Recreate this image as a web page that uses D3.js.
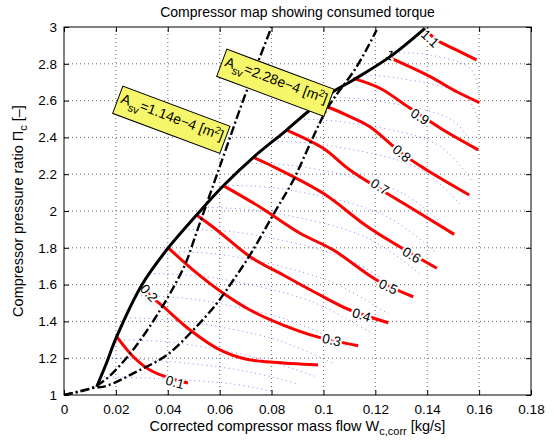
<!DOCTYPE html>
<html>
<head>
<meta charset="utf-8">
<script src="https://cdn.jsdelivr.net/npm/d3@7"></script>
<style>
  body { margin: 0; background: #fff; }
  svg { display: block; font-family: "Liberation Sans", Arial, sans-serif; }
</style>
</head>
<body>
<div id="chart"></div>
<script>
// axis ticks
const xTicks = [0, 0.02, 0.04, 0.06, 0.08, 0.1, 0.12, 0.14, 0.16, 0.18];
const yTicks = [1, 1.2, 1.4, 1.6, 1.8, 2, 2.2, 2.4, 2.6, 2.8, 3];

// surge line (black, solid)
const surgeLine = [
  [0.0126, 1.045], [0.016, 1.16], [0.0203, 1.317], [0.03, 1.598], [0.0402, 1.80],
  [0.0511, 1.978], [0.0614, 2.137], [0.073, 2.292], [0.0858, 2.44], [0.0948, 2.549],
  [0.1037, 2.648], [0.1115, 2.712], [0.1257, 2.839], [0.1391, 2.993]
];

// throttle lines (black, dash-dot)
const throttleSmall = [
  [0.0, 1.0], [0.011, 1.04], [0.0165, 1.09], [0.024, 1.2], [0.031, 1.33], [0.037, 1.46],
  [0.042, 1.58], [0.047, 1.72], [0.051, 1.88], [0.055, 2.04], [0.059, 2.2], [0.064, 2.4],
  [0.069, 2.6], [0.0745, 2.8], [0.080, 3.0]
];
const throttleLarge = [
  [0.0, 1.0], [0.0112, 1.038], [0.0165, 1.05], [0.028, 1.127], [0.0396, 1.217],
  [0.0498, 1.353], [0.0589, 1.498], [0.0653, 1.625], [0.0717, 1.761], [0.0813, 1.996],
  [0.0884, 2.168], [0.0955, 2.386], [0.1019, 2.567], [0.1128, 2.784], [0.1205, 2.984]
];

// torque contour levels and lines (red)
const torqueLevels = ["0.1", "0.2", "0.3", "0.4", "0.5", "0.6", "0.7", "0.8", "0.9", "1", "1.1"];
const torqueLines = [
  [[0.0203, 1.317], [0.0267, 1.208], [0.0331, 1.136], [0.0409, 1.091], [0.0478, 1.065]],
  [[0.0299, 1.598], [0.0344, 1.526], [0.0383, 1.48], [0.0486, 1.353], [0.0601, 1.245], [0.0704, 1.194], [0.0807, 1.178], [0.0979, 1.163]],
  [[0.0402, 1.80], [0.0498, 1.679], [0.0614, 1.553], [0.0717, 1.462], [0.0845, 1.380], [0.0974, 1.317], [0.1134, 1.268]],
  [[0.0511, 1.978], [0.0589, 1.897], [0.0717, 1.752], [0.0845, 1.652], [0.0974, 1.553], [0.1102, 1.462], [0.125, 1.393]],
  [[0.0614, 2.138], [0.0755, 2.022], [0.091, 1.879], [0.1038, 1.788], [0.1205, 1.625], [0.1346, 1.534]],
  [[0.073, 2.292], [0.0794, 2.25], [0.0999, 2.096], [0.1179, 1.906], [0.1437, 1.689]],
  [[0.0858, 2.44], [0.0999, 2.341], [0.1102, 2.223], [0.1308, 2.042], [0.1504, 1.873]],
  [[0.0979, 2.582], [0.1019, 2.564], [0.1102, 2.513], [0.1179, 2.458], [0.1302, 2.313], [0.1398, 2.223], [0.1562, 2.087]],
  [[0.1115, 2.721], [0.1218, 2.667], [0.1334, 2.558], [0.1462, 2.44], [0.1597, 2.332]],
  [[0.1249, 2.837], [0.1411, 2.73], [0.1514, 2.648], [0.1601, 2.589]],
  [[0.1391, 2.989], [0.1437, 2.929], [0.1514, 2.874], [0.159, 2.821]]
];
const torqueLabelPos = [
  [0.0428, 1.07], [0.0328, 1.554], [0.1032, 1.299], [0.1147, 1.435], [0.125, 1.589],
  [0.134, 1.761], [0.1218, 2.132], [0.1302, 2.313], [0.1372, 2.513], [0.1257, 2.848], [0.1411, 2.938]
];

// compressor speed lines (blue, dotted)
const speedLines = [
  [[0.0138, 1.10], [0.035, 1.09], [0.065, 1.06], [0.08, 1.02]],
  [[0.0168, 1.20], [0.038, 1.185], [0.07, 1.13], [0.09, 1.06]],
  [[0.0198, 1.30], [0.042, 1.285], [0.075, 1.20], [0.097, 1.10]],
  [[0.0239, 1.42], [0.046, 1.40], [0.082, 1.30], [0.104, 1.17]],
  [[0.028, 1.54], [0.05, 1.52], [0.088, 1.40], [0.111, 1.25]],
  [[0.0331, 1.66], [0.056, 1.64], [0.095, 1.51], [0.118, 1.34]],
  [[0.0392, 1.78], [0.062, 1.76], [0.102, 1.62], [0.125, 1.44]],
  [[0.0463, 1.90], [0.069, 1.88], [0.109, 1.74], [0.131, 1.55]],
  [[0.0538, 2.02], [0.076, 2.00], [0.116, 1.86], [0.137, 1.66]],
  [[0.0616, 2.14], [0.084, 2.12], [0.123, 1.98], [0.143, 1.78]],
  [[0.0706, 2.26], [0.092, 2.24], [0.13, 2.10], [0.148, 1.90]],
  [[0.0806, 2.38], [0.10, 2.36], [0.137, 2.23], [0.153, 2.03]],
  [[0.0908, 2.50], [0.11, 2.48], [0.144, 2.36], [0.157, 2.17]],
  [[0.1012, 2.62], [0.12, 2.60], [0.15, 2.49], [0.159, 2.32]],
  [[0.1146, 2.74], [0.13, 2.72], [0.155, 2.62], [0.16, 2.47]],
  [[0.1275, 2.86], [0.14, 2.85], [0.157, 2.77], [0.16, 2.62]]
];

// valve area annotations
const areaValues = ["1.14e\u22124", "2.28e\u22124"];
const areaLabelPos = [[0.0413, 2.493], [0.0814, 2.694]];

const width = 554;
const height = 441;
const margin = { top: 27, right: 23, bottom: 46, left: 64 };

const x = d3.scaleLinear().domain([0, 0.18]).range([margin.left, width - margin.right]);
const y = d3.scaleLinear().domain([1, 3]).range([height - margin.bottom, margin.top]);

const svg = d3.select("#chart").append("svg")
  .attr("width", width)
  .attr("height", height);

svg.append("defs").append("clipPath").attr("id", "plot")
  .append("rect")
  .attr("x", x(0)).attr("y", y(3))
  .attr("width", x(0.18) - x(0)).attr("height", y(1) - y(3));

// grid
const grid = svg.append("g")
  .attr("stroke", "#444")
  .attr("stroke-width", 0.8)
  .attr("stroke-dasharray", "1,3");
grid.selectAll(".gx").data(xTicks.slice(1, -1)).join("line")
  .attr("x1", (d) => x(d)).attr("x2", (d) => x(d))
  .attr("y1", y(1)).attr("y2", y(3));
grid.selectAll(".gy").data(yTicks.slice(1, -1)).join("line")
  .attr("y1", (d) => y(d)).attr("y2", (d) => y(d))
  .attr("x1", x(0)).attr("x2", x(0.18));

// axes, ticks pointing in
const fmt = d3.format("~g");
const axisStyle = (g) => {
  g.select(".domain").remove();
  g.selectAll("text").attr("font-size", 13.5).attr("fill", "#000")
    .attr("font-family", "Liberation Sans, Arial, sans-serif");
  g.selectAll("line").attr("stroke", "#000");
};
svg.append("g").attr("transform", `translate(0,${y(1)})`)
  .call(d3.axisBottom(x).tickValues(xTicks).tickFormat(fmt).tickSizeInner(-5).tickSizeOuter(0).tickPadding(9))
  .call(axisStyle);
svg.append("g").attr("transform", `translate(0,${y(3)})`)
  .call(d3.axisTop(x).tickValues(xTicks).tickFormat("").tickSizeInner(-5).tickSizeOuter(0))
  .call(axisStyle);
svg.append("g").attr("transform", `translate(${x(0)},0)`)
  .call(d3.axisLeft(y).tickValues(yTicks).tickFormat(fmt).tickSizeInner(-5).tickSizeOuter(0).tickPadding(7))
  .call(axisStyle);
svg.append("g").attr("transform", `translate(${x(0.18)},0)`)
  .call(d3.axisRight(y).tickValues(yTicks).tickFormat("").tickSizeInner(-5).tickSizeOuter(0))
  .call(axisStyle);

const plot = svg.append("g").attr("clip-path", "url(#plot)");
const lineGen = d3.line().x((d) => x(d[0])).y((d) => y(d[1])).curve(d3.curveCatmullRom);

// speed lines
plot.append("g").selectAll("path").data(speedLines).join("path")
  .attr("d", lineGen)
  .attr("fill", "none")
  .attr("stroke", "#3c3cff")
  .attr("stroke-width", 1)
  .attr("stroke-opacity", 0.6)
  .attr("stroke-dasharray", "1,3.5");

// torque contours
plot.append("g").selectAll("path").data(torqueLines).join("path")
  .attr("d", lineGen)
  .attr("fill", "none")
  .attr("stroke", "#ff0000")
  .attr("stroke-width", 3);

// contour labels rotated along the line
function labelAngle(line, pos) {
  const px = x(pos[0]), py = y(pos[1]);
  let best = null, bd = Infinity;
  for (let i = 0; i < line.length - 1; i++) {
    const ax = x(line[i][0]), ay = y(line[i][1]);
    const bx = x(line[i + 1][0]), by = y(line[i + 1][1]);
    const t = Math.max(0, Math.min(1, ((px - ax) * (bx - ax) + (py - ay) * (by - ay)) / ((bx - ax) ** 2 + (by - ay) ** 2)));
    const d = (ax + t * (bx - ax) - px) ** 2 + (ay + t * (by - ay) - py) ** 2;
    if (d < bd) { bd = d; best = [ax, ay, bx, by]; }
  }
  return Math.atan2(best[3] - best[1], best[2] - best[0]) * 180 / Math.PI;
}

plot.append("g").selectAll("text").data(torqueLevels).join("text")
  .attr("transform", (d, i) => {
    const p = torqueLabelPos[i];
    return `translate(${x(p[0])},${y(p[1])}) rotate(${labelAngle(torqueLines[i], p)})`;
  })
  .attr("text-anchor", "middle")
  .attr("dy", "0.35em")
  .attr("font-size", 13.5)
  .attr("fill", "#000")
  .attr("stroke", "#fff")
  .attr("stroke-width", 4)
  .attr("paint-order", "stroke")
  .text((d) => d);

// surge line
plot.append("path").datum(surgeLine)
  .attr("d", lineGen)
  .attr("fill", "none")
  .attr("stroke", "#000")
  .attr("stroke-width", 3);

// throttle lines
plot.append("g").selectAll("path").data([throttleSmall, throttleLarge]).join("path")
  .attr("d", lineGen)
  .attr("fill", "none")
  .attr("stroke", "#000")
  .attr("stroke-width", 2.4)
  .attr("stroke-dasharray", "9,3,2,3");

// valve area boxes
areaValues.forEach((v, i) => {
  const p = areaLabelPos[i];
  const g = svg.append("g").attr("transform", `translate(${x(p[0])},${y(p[1])}) rotate(20.5)`);
  const rect = g.append("rect");
  const t = g.append("text").attr("font-size", 14).attr("text-anchor", "middle").attr("dy", "0.1em");
  t.append("tspan").text("A");
  t.append("tspan").attr("font-size", 11).attr("dy", 5).text("sv");
  t.append("tspan").attr("dy", -5).text(`=${v} [m`);
  t.append("tspan").attr("font-size", 10).attr("dy", -5).text("2");
  t.append("tspan").attr("dy", 5).text("]");
  const bb = t.node().getBBox();
  rect.attr("x", bb.x - 3).attr("y", -15).attr("width", bb.width + 6).attr("height", 29)
    .attr("fill", "#f6f66a").attr("stroke", "#000").attr("stroke-width", 1);
});

// frame
svg.append("rect")
  .attr("x", x(0)).attr("y", y(3))
  .attr("width", x(0.18) - x(0)).attr("height", y(1) - y(3))
  .attr("fill", "none").attr("stroke", "#000").attr("stroke-width", 1);

// title and axis labels
svg.append("text")
  .attr("x", (x(0) + x(0.18)) / 2).attr("y", 17)
  .attr("text-anchor", "middle").attr("font-size", 14)
  .text("Compressor map showing consumed torque");

const xl = svg.append("text")
  .attr("x", (x(0) + x(0.18)) / 2).attr("y", 431)
  .attr("text-anchor", "middle").attr("font-size", 14.5);
xl.append("tspan").text("Corrected compressor mass flow W");
xl.append("tspan").attr("font-size", 11).attr("dy", 4).text("c,corr");
xl.append("tspan").attr("dy", -4).text(" [kg/s]");

const yl = svg.append("text")
  .attr("transform", `translate(23,${(y(1) + y(3)) / 2}) rotate(-90)`)
  .attr("text-anchor", "middle").attr("font-size", 14.5);
yl.append("tspan").text("Compressor pressure ratio \u03A0");
yl.append("tspan").attr("font-size", 11).attr("dy", 4).text("c");
yl.append("tspan").attr("dy", -4).text(" [\u2013]");
</script>
</body>
</html>
